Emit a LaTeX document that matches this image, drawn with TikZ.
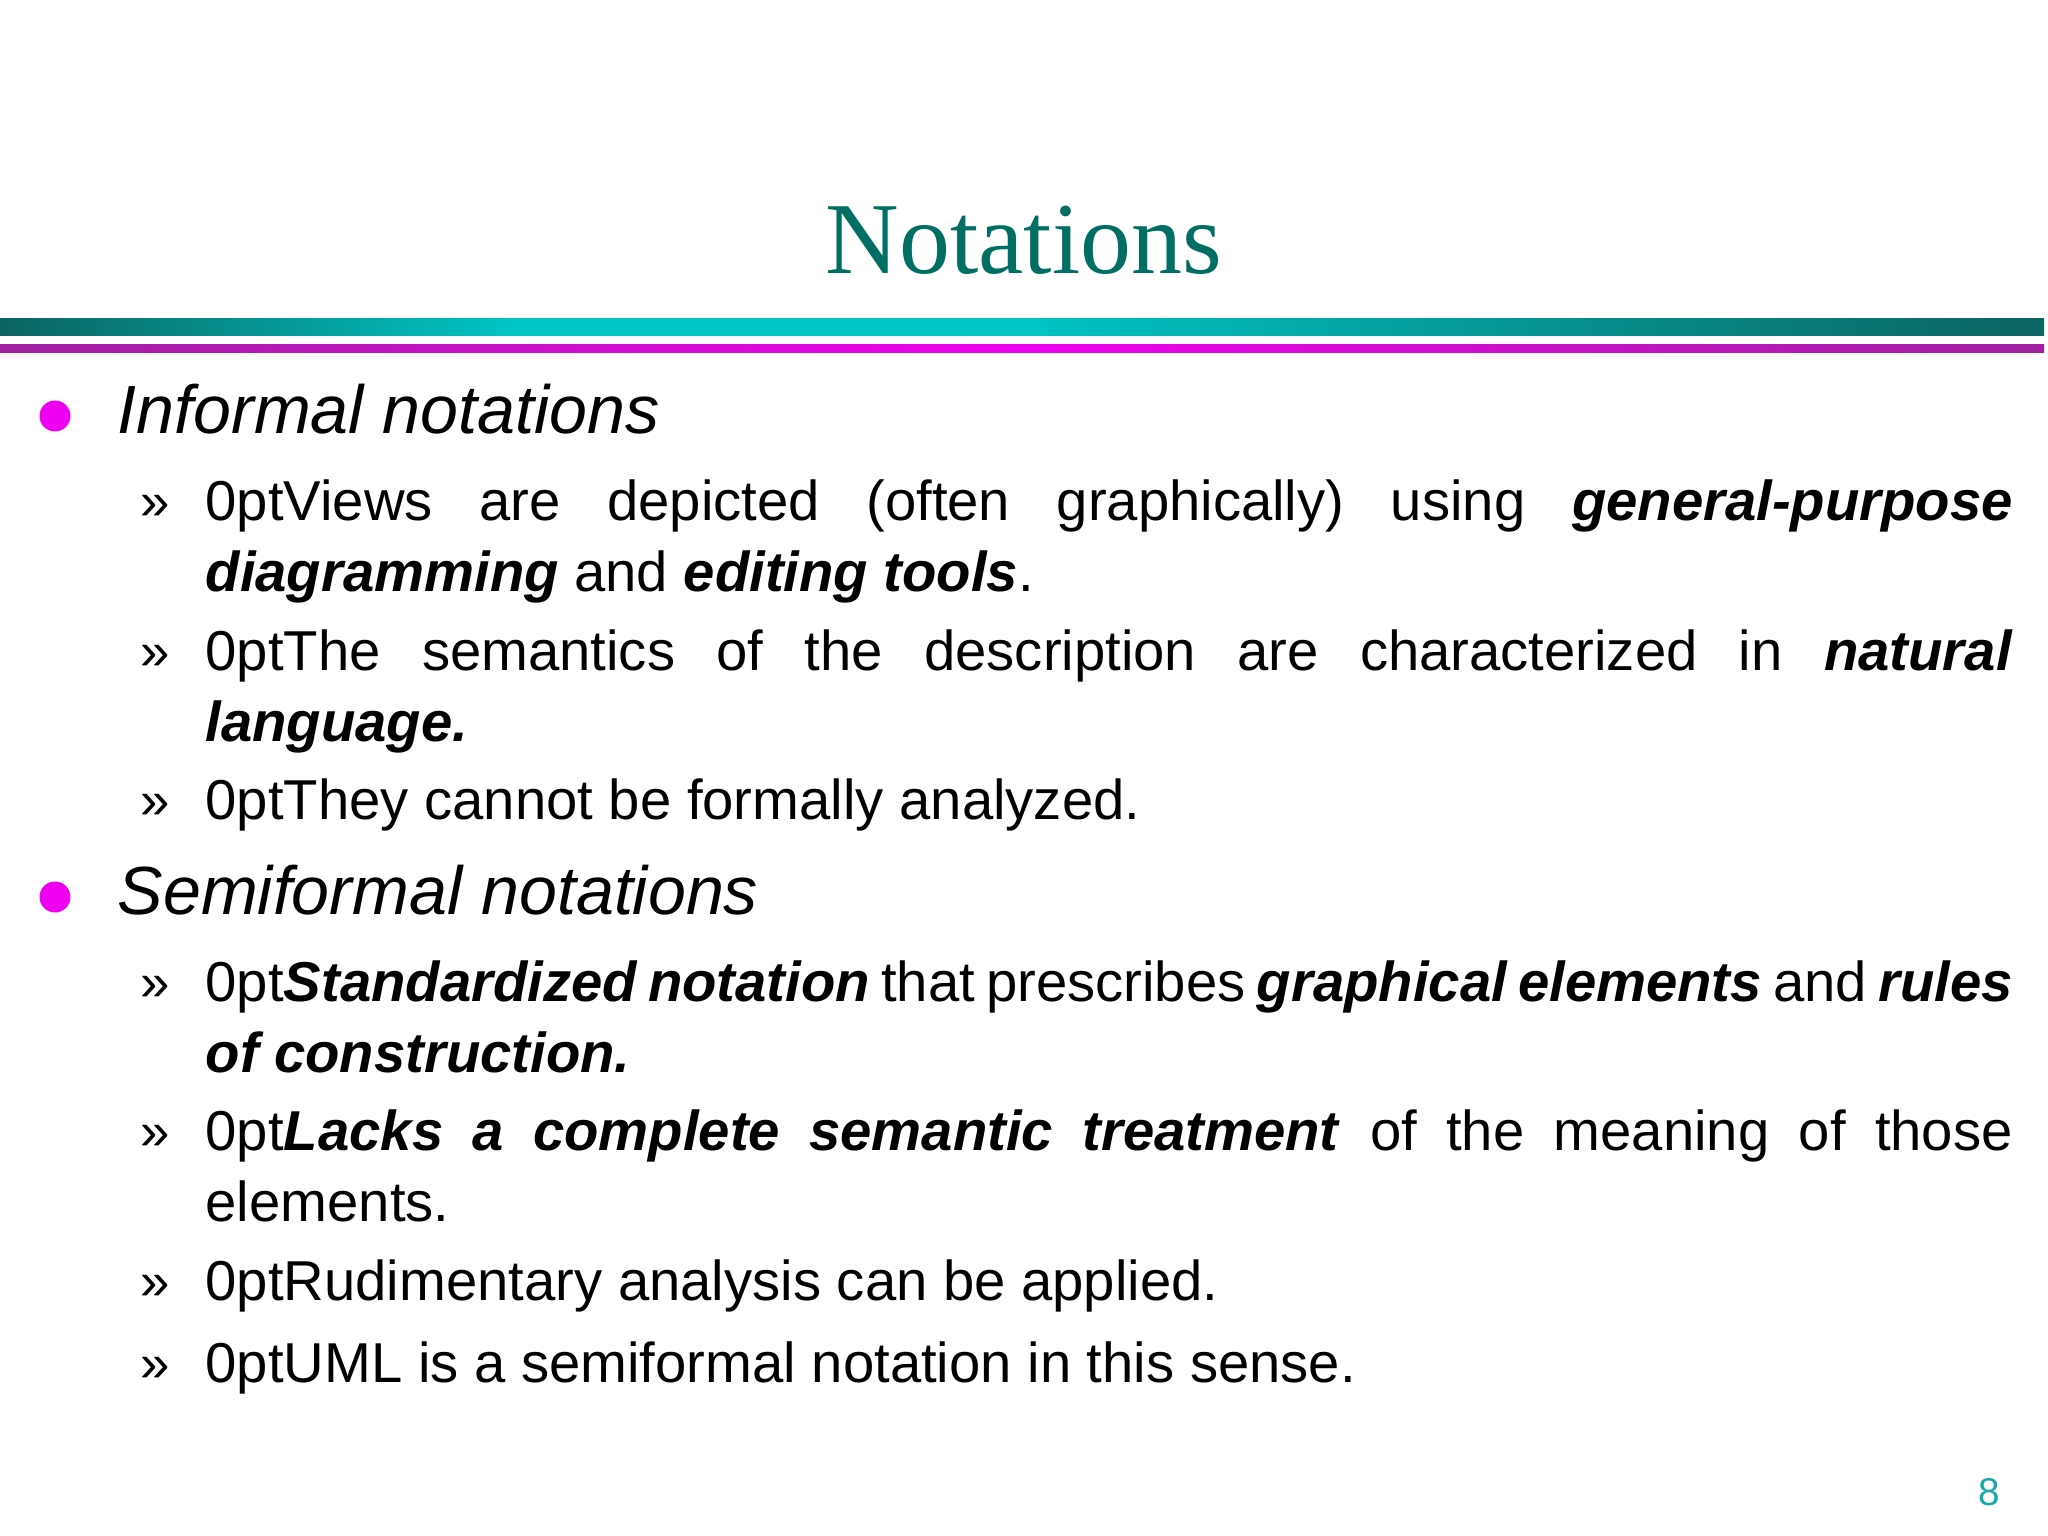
\documentclass[tikz,border=0pt]{standalone}
\usepackage{fontspec}
\setmainfont{Liberation Sans}
\newfontfamily\titlefont{Liberation Serif}
\definecolor{ttl}{HTML}{006E62}
\definecolor{tealdark}{HTML}{0B6461}
\definecolor{cyanb}{HTML}{00C4C4}
\definecolor{purp}{HTML}{A020A0}
\definecolor{mag}{HTML}{F000F0}
\definecolor{pnum}{HTML}{18A8A8}
\tikzset{
 head/.style={anchor=base west,inner sep=0,font=\fontsize{19.4}{24}\selectfont\itshape},
 para/.style={anchor=north west,inner sep=0,text width=18.07cm,align=justify,font=\fontsize{16}{20.3}\selectfont\hyphenpenalty=10000},
 chev/.style={anchor=base west,inner sep=0,font=\fontsize{15}{20}\selectfont},
 dot/.style={circle,fill=mag,inner sep=0,minimum size=0.31cm}
}
\begin{document}
\begin{tikzpicture}[x=1cm,y=1cm]
\useasboundingbox (0,0) rectangle (20.48,15.36);
\node[font=\titlefont\fontsize{29}{34}\selectfont,text=ttl,anchor=base] (title) at (10.24,12.62) {Notations};
\shade[left color=tealdark,right color=cyanb,middle color=cyanb] (0,12.17) rectangle (10.24,12.0);
\shade[left color=cyanb,right color=tealdark] (10.24,12.17) rectangle (20.44,12.0);
\shade[left color=purp,right color=mag] (0,11.91) rectangle (10.24,11.83);
\shade[left color=mag,right color=purp] (10.24,11.91) rectangle (20.44,11.83);
% Informal
\node[dot] (d1) at (0.55,11.2) {};
\node[head] (h1) at (1.17,11.02) {Informal notations};
\node[chev] (m1) at (1.4,10.16) {»};
\node[para] (p1) at (2.05,10.57) {Views are depicted (often graphically) using \textbf{\textit{general-purpose}}\linebreak \textbf{\textit{diagramming}} and \textbf{\textit{editing tools}}.};
\node[chev] (m2) at (1.4,8.66) {»};
\node[para] (p2) at (2.05,9.07) {The semantics of the description are characterized in \textbf{\textit{natural}}\linebreak \textbf{\textit{language.}}};
\node[chev] (m3) at (1.4,7.17) {»};
\node[para] (p3) at (2.05,7.58) {They cannot be formally analyzed.};
% Semiformal
\node[dot] (d2) at (0.55,6.39) {};
\node[head] (h2) at (1.17,6.21) {Semiformal notations};
\node[chev] (m4) at (1.4,5.35) {»};
\node[para] (p4) at (2.05,5.76) {\textbf{\textit{Standardized notation}} that prescribes \textbf{\textit{graphical elements}} and \textbf{\textit{rules}}\linebreak \textbf{\textit{of construction.}}};
\node[chev] (m5) at (1.4,3.86) {»};
\node[para] (p5) at (2.05,4.27) {\textbf{\textit{Lacks a complete semantic treatment}} of the meaning of those\linebreak elements.};
\node[chev] (m6) at (1.4,2.36) {»};
\node[para] (p6) at (2.05,2.77) {Rudimentary analysis can be applied.};
\node[chev] (m7) at (1.4,1.54) {»};
\node[para] (p7) at (2.05,1.95) {UML is a semiformal notation in this sense.};
\node[font=\fontsize{11}{13}\selectfont,text=pnum,anchor=base] (pg) at (19.89,0.3) {8};
\end{tikzpicture}
\end{document}
